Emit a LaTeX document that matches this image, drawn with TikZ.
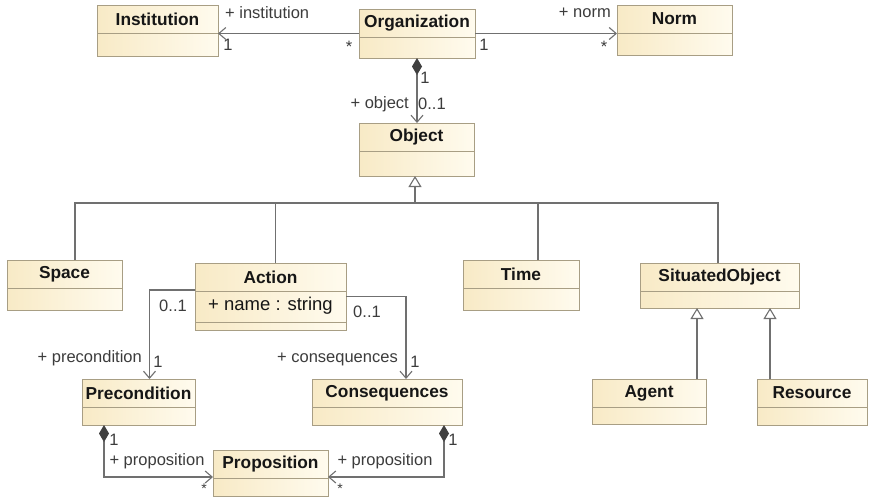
\documentclass[tikz,border=0pt]{standalone}
\usepackage{fontspec}
\setmainfont{Liberation Sans}
\usetikzlibrary{arrows.meta,calc}

\definecolor{boxL}{RGB}{248,234,198}
\definecolor{boxR}{RGB}{255,251,238}
\definecolor{boxEdge}{RGB}{168,158,132}
\definecolor{wire}{RGB}{112,112,112}
\definecolor{ink}{RGB}{22,22,22}
\definecolor{labelink}{RGB}{60,60,60}

% UML class box: name, left, top, right, bottom, title
\newcommand\umlclass[6]{%
  \node[classbox, minimum width={#4-#2}, minimum height={#5-#3}] (#1)
    at ({(#2+#4)/2},{(#3+#5)/2}) {};
  \node[classtitle] (#1-title) at ({(#2+#4)/2},{#3+14}) {#6};
  \draw[divider] (#2,#3+28) -- (#4,#3+28);
}

\tikzset{
  classbox/.style={draw=boxEdge, line width=1pt, left color=boxL, right color=boxR,
    inner sep=0pt, outer sep=0pt},
  classtitle/.style={font=\bfseries\fontsize{17.3}{19}\selectfont, text=ink, inner sep=0pt},
  divider/.style={draw=boxEdge, line width=1pt},
  lbl/.style={font=\fontsize{16.5}{18}\selectfont, text=labelink, inner sep=0pt},
  starlbl/.style={font=\fontsize{14}{15}\selectfont, text=labelink, inner sep=0pt},
  wireline/.style={draw=wire, line width=1.1pt},
  assoc/.style={wireline, -{Straight Barb[length=7pt,width=12pt,line width=1.1pt]}},
  compo/.style={wireline,
    {Diamond[length=17pt,width=10pt,fill=black!75,color=black!75]}-{Straight Barb[length=7pt,width=12pt,line width=1.1pt]}},
  gen/.style={wireline, -{Triangle[length=11pt,width=13pt,fill=white,line width=1.1pt]}},
}

\begin{document}
\begin{tikzpicture}[x=1pt,y=-1pt]
  \fill[white] (0,0) rectangle (870,498);
  \useasboundingbox (0,0) rectangle (870,498);

  % classes
  \umlclass{inst}{97}{5}{218}{56}{Institution}
  \umlclass{org}{359}{9}{475}{58}{Organization}
  \umlclass{norm}{617}{5}{732}{55}{Norm}
  \umlclass{obj}{359}{123}{474}{176}{Object}
  \umlclass{space}{7}{260}{122}{310}{Space}
  \umlclass{action}{195}{263}{346}{330}{Action}
  \draw[divider] (195,322) -- (346,322);
  \node[font=\fontsize{18.5}{20}\selectfont, text=ink, inner sep=0pt] (attr) at (270.5,306) {+ name : string};
  \umlclass{time}{463}{260}{579}{310}{Time}
  \umlclass{sit}{640}{263}{799}{308}{SituatedObject}
  \umlclass{agent}{592}{379}{706}{424}{Agent}
  \umlclass{res}{757}{379}{867}{425}{Resource}
  \umlclass{prec}{82}{379}{195}{425}{Precondition}
  \umlclass{cons}{312}{379}{462}{425}{Consequences}
  \umlclass{prop}{213}{450}{328}{496}{Proposition}

  % associations of Organization
  \draw[assoc] (org.west) -- (org.west -| inst.east);
  \draw[assoc] (org.east) -- (org.east -| norm.west);
  \draw[compo] (org.south) -- (org.south |- obj.north);

  % generalization tree under Object
  \coordinate (busL) at (75,203);
  \coordinate (busR) at (718,203);
  \draw[wireline] ([xshift=10.5pt]space.north) -- (busL) -- (busR) -- ([xshift=-1.5pt]sit.north);
  \draw[wireline] ([xshift=5pt]action.north) -- ([xshift=5pt]action.north |- busL);
  \draw[wireline] ([xshift=17pt]time.north) -- ([xshift=17pt]time.north |- busL);
  \draw[gen] ([xshift=-1.5pt]obj.south |- busL) -- ([xshift=-1.5pt]obj.south);
  \draw[gen] ([xshift=48pt]agent.north) -- ([xshift=48pt]agent.north |- sit.south);
  \draw[gen] ([xshift=-42pt]res.north) -- ([xshift=-42pt]res.north |- sit.south);

  % Action to Precondition / Consequences
  \draw[assoc] ([yshift=6.5pt]action.west) -| ([xshift=11pt]prec.north);
  \draw[assoc] (action.east) -| ([xshift=19pt]cons.north);

  % compositions to Proposition
  \draw[compo] ([xshift=-34.5pt]prec.south) |- ([yshift=-4pt]prop.west);
  \draw[compo] ([xshift=57pt]cons.south) |- ([yshift=-4pt]prop.east);

  % role names and multiplicities
  \node[lbl, anchor=west] (l1) at (225,13) {+ institution};
  \node[lbl] (l2) at (228,45) {1};
  \node[lbl] (l3) at (349,47) {*};
  \node[lbl] (l4) at (484,45) {1};
  \node[lbl, anchor=east] (l5) at (611,13) {+ norm};
  \node[lbl] (l6) at (604,47) {*};
  \node[lbl] (l7) at (425,78) {1};
  \node[lbl, anchor=east] (l8) at (409,104) {+ object};
  \node[lbl, anchor=west] (l9) at (418,104) {0..1};
  \node[lbl] (l10) at (173,306) {0..1};
  \node[lbl] (l11) at (367,312) {0..1};
  \node[lbl, anchor=east] (l12) at (142,358) {+ precondition};
  \node[lbl] (l13) at (158,362) {1};
  \node[lbl, anchor=east] (l14) at (398,359) {+ consequences};
  \node[lbl] (l15) at (415,362) {1};
  \node[lbl] (l16) at (114,440) {1};
  \node[lbl] (l17) at (157,461) {+ proposition};
  \node[starlbl] (l18) at (204,489) {*};
  \node[lbl] (l19) at (453,440) {1};
  \node[lbl] (l20) at (385,461) {+ proposition};
  \node[starlbl] (l21) at (340,489) {*};
\end{tikzpicture}
\end{document}
